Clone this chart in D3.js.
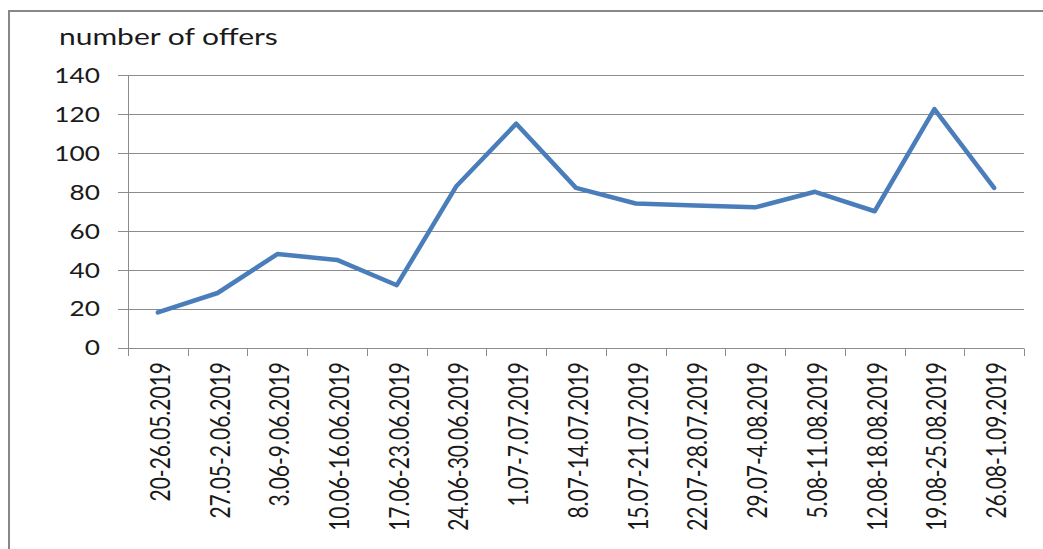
<!DOCTYPE html>
<html>
<head>
<meta charset="utf-8">
<script src="https://cdn.jsdelivr.net/npm/d3@7"></script>
<style>
  html, body { margin: 0; padding: 0; background: #fff; }
  svg { display: block; }
  text { font-family: Lato, "Open Sans", sans-serif; fill: #1a1a1a; }
</style>
</head>
<body>
<svg id="chart" width="1043" height="549"></svg>
<script>
const categories = [
  "20-26.05.2019", "27.05-2.06.2019", "3.06-9.06.2019", "10.06-16.06.2019",
  "17.06-23.06.2019", "24.06-30.06.2019", "1.07-7.07.2019", "8.07-14.07.2019",
  "15.07-21.07.2019", "22.07-28.07.2019", "29.07-4.08.2019", "5.08-11.08.2019",
  "12.08-18.08.2019", "19.08-25.08.2019", "26.08-1.09.2019"
];
const offers = [18, 28, 48, 45, 32, 83, 115, 82, 74, 73, 72, 80, 70, 122.5, 82];
const yTicks = [0, 20, 40, 60, 80, 100, 120, 140];
const yTitle = "number of offers";

(function () {
const svg = d3.select("#chart");
const W = 1043, H = 549;
const mLeft = 128, mRight = 1024, mTop = 75, mBottom = 347.5;
const stretch = 1.25;
const fontSize = 21;

svg.append("rect").attr("width", W).attr("height", H).attr("fill", "#fff");
// outer chart border
svg.append("rect")
  .attr("x", 9).attr("y", 11).attr("width", W + 20).attr("height", H + 20)
  .attr("fill", "none").attr("stroke", "#878787").attr("stroke-width", 2);

const x = d3.scaleBand().domain(categories).range([mLeft, mRight]).paddingInner(0).paddingOuter(0);
const y = d3.scaleLinear().domain([0, 140]).range([mBottom, mTop]);

// gridlines
svg.append("g").selectAll("line").data(yTicks).join("line")
  .attr("x1", mLeft - 10).attr("x2", mRight)
  .attr("y1", d => Math.round(y(d)) + 0.5).attr("y2", d => Math.round(y(d)) + 0.5)
  .attr("stroke", "#8c8c8c").attr("stroke-width", 1);

// y axis line
svg.append("line")
  .attr("x1", mLeft + 0.5).attr("x2", mLeft + 0.5)
  .attr("y1", Math.round(y(140)) + 0.5).attr("y2", Math.round(y(0)) + 8)
  .attr("stroke", "#8c8c8c").attr("stroke-width", 1);

// x tick marks at category boundaries
const boundaries = categories.map(c => x(c)).concat([mRight]);
svg.append("g").selectAll("line").data(boundaries).join("line")
  .attr("x1", d => Math.round(d) + 0.5).attr("x2", d => Math.round(d) + 0.5)
  .attr("y1", Math.round(y(0)) + 0.5).attr("y2", Math.round(y(0)) + 8)
  .attr("stroke", "#8c8c8c").attr("stroke-width", 1);

// y tick labels
const yAxis = d3.axisLeft(y).tickValues(yTicks).tickSize(0).tickFormat(d3.format("d"));
const yg = svg.append("g").attr("transform", `translate(${mLeft},0)`).call(yAxis);
yg.select(".domain").remove();
yg.selectAll(".tick text")
  .attr("x", 0).attr("dy", "0.35em")
  .attr("font-size", fontSize)
  .attr("font-family", "Lato, sans-serif")
  .attr("fill", "#1a1a1a")
  .attr("transform", `translate(-28,0) scale(${stretch},1)`);

// x tick labels rotated
const xAxis = d3.axisBottom(x).tickSize(0);
const xg = svg.append("g").attr("transform", `translate(0,${y(0)})`).call(xAxis);
xg.select(".domain").remove();
xg.selectAll(".tick text")
  .attr("x", 0).attr("y", 0).attr("dy", null)
  .attr("text-anchor", "end")
  .attr("dominant-baseline", "central")
  .attr("font-size", fontSize)
  .attr("font-family", "Lato, sans-serif")
  .attr("fill", "#1a1a1a")
  .attr("transform", `translate(2,14.5) scale(${stretch},1) rotate(-90)`);

// title
svg.append("text")
  .attr("x", 59 / stretch).attr("y", 45)
  .attr("font-size", 24)
  .attr("transform", `scale(${stretch},1)`)
  .text(yTitle);

// line
const line = d3.line()
  .x((d, i) => x(categories[i]) + x.bandwidth() / 2)
  .y(d => y(d));
svg.append("path").datum(offers)
  .attr("d", line)
  .attr("fill", "none")
  .attr("stroke", "#4a7ebb")
  .attr("stroke-width", 4.5)
  .attr("stroke-linejoin", "round")
  .attr("stroke-linecap", "round");
})();
</script>
</body>
</html>
